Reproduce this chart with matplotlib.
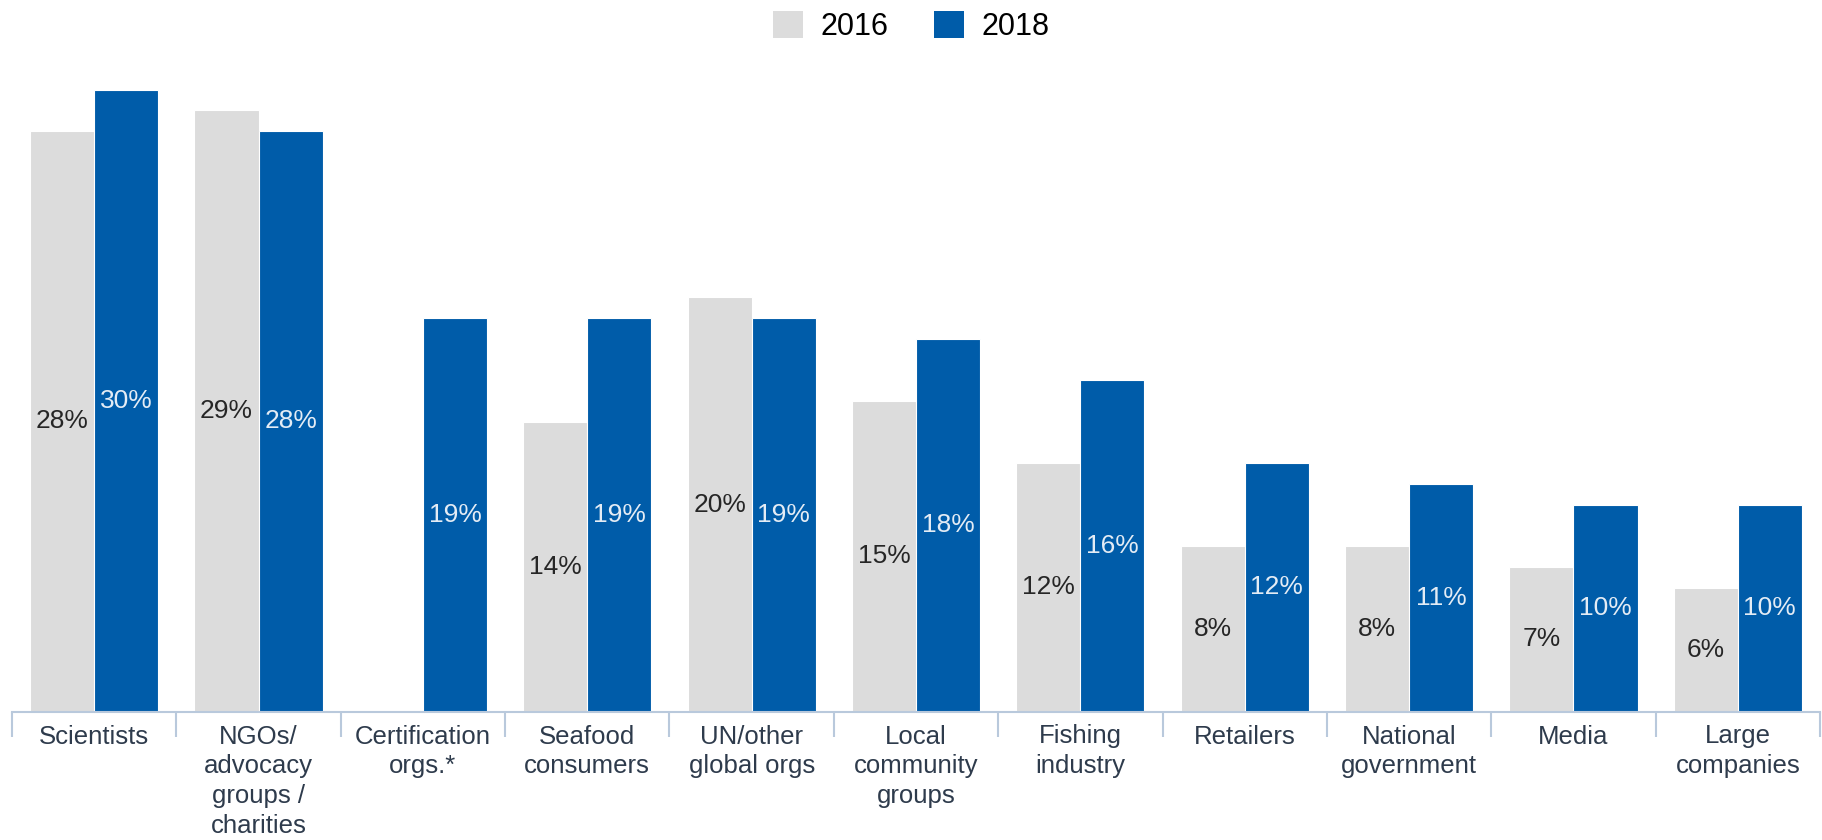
import matplotlib.pyplot as plt
import matplotlib.patches as patches
import numpy as np

plt.rcParams['font.family'] = ['Liberation Sans', 'DejaVu Sans']

categories = ['Scientists', 'NGOs/\nadvocacy\ngroups /\ncharities', 'Certification\norgs.*',
              'Seafood\nconsumers', 'UN/other\nglobal orgs', 'Local\ncommunity\ngroups',
              'Fishing\nindustry', 'Retailers', 'National\ngovernment', 'Media', 'Large\ncompanies']
values_2016 = [28, 29, None, 14, 20, 15, 12, 8, 8, 7, 6]
values_2018 = [30, 28, 19, 19, 19, 18, 16, 12, 11, 10, 10]

grey = '#dcdcdc'
blue = '#005ca9'
axis_col = '#b9c9dc'
label_col = '#2e3b4c'

fig = plt.figure(figsize=(18.22, 8.4), dpi=100)
# axes spans almost the full width; top of axes = 30% line
ax = fig.add_axes([12 / 1822, 128 / 840, 1808 / 1822, (712 - 89.5) / 840])

x = np.arange(len(categories))
w = 0.39
v16 = [np.nan if v is None else v for v in values_2016]
ax.bar(x - w / 2, v16, w, color=grey, edgecolor='white', linewidth=0.8)
ax.bar(x + w / 2, values_2018, w, color=blue, edgecolor='white', linewidth=0.8)

# value labels in the middle of each bar
for i in range(len(categories)):
    if values_2016[i] is not None:
        ax.text(x[i] - w / 2, values_2016[i] / 2, f'{values_2016[i]}%', ha='center', va='center',
                fontsize=19, color='#262626')
    ax.text(x[i] + w / 2, values_2018[i] / 2, f'{values_2018[i]}%', ha='center', va='center',
            fontsize=19, color='#e4ecf5')

ax.set_xlim(-0.5, len(categories) - 0.5)
ax.set_ylim(0, 30)
ax.set_yticks([])
for s in ['top', 'right', 'left']:
    ax.spines[s].set_visible(False)
ax.spines['bottom'].set_color(axis_col)
ax.spines['bottom'].set_linewidth(1.5)

ax.set_xticks(x)
ax.set_xticklabels(categories, fontsize=18.5, color=label_col, linespacing=1.3, va='top')
ax.tick_params(axis='x', which='major', length=0, pad=9)
ax.set_xticks(np.arange(-0.5, len(categories), 1), minor=True)
ax.tick_params(axis='x', which='minor', length=18, width=1.5, color=axis_col)

handles = [patches.Patch(facecolor=grey, label='2016'),
           patches.Patch(facecolor=blue, label='2018')]
fig.legend(handles=handles, loc='upper center', bbox_to_anchor=(0.5, 1.02), ncol=2,
           frameon=False, fontsize=22, handlelength=1.0, handleheight=1.0,
           handletextpad=0.55, columnspacing=1.5)

fig.savefig('out.png', dpi=100)
